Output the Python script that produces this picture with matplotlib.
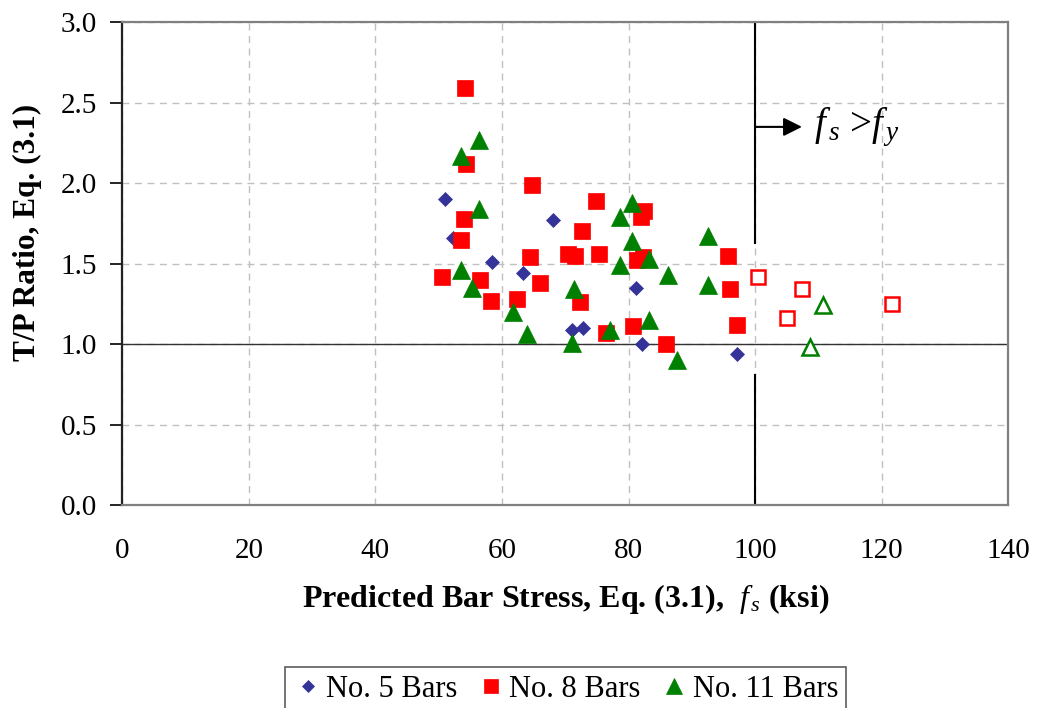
import matplotlib
matplotlib.use("Agg")
import matplotlib.pyplot as plt

plt.rcParams['font.family'] = ['Liberation Serif', 'DejaVu Serif']
plt.rcParams['mathtext.fontset'] = 'custom'
plt.rcParams['mathtext.rm'] = 'Liberation Serif'
plt.rcParams['mathtext.it'] = 'Liberation Serif:italic'
plt.rcParams['mathtext.bf'] = 'Liberation Serif:bold'

# No. 5 bars
no5_fs = [51.0, 52.3, 58.4, 68.0, 63.4, 81.2, 71.0, 72.8, 82.1, 97.1]
no5_tp = [1.90, 1.66, 1.51, 1.77, 1.44, 1.35, 1.09, 1.10, 1.00, 0.94]

# No. 8 bars (fs below yield)
no8_fs = [54.2, 54.3, 64.8, 54.0, 53.6, 74.8, 82.5, 82.0, 72.6, 64.4,
          70.4, 71.5, 75.3, 81.3, 82.3, 50.6, 56.5, 58.3, 62.3, 66.0,
          72.4, 76.4, 80.7, 85.9, 95.7, 96.0, 97.2]
no8_tp = [2.59, 2.12, 1.99, 1.78, 1.65, 1.89, 1.83, 1.79, 1.70, 1.54,
          1.56, 1.55, 1.56, 1.52, 1.54, 1.42, 1.40, 1.27, 1.28, 1.38,
          1.26, 1.07, 1.11, 1.00, 1.55, 1.34, 1.12]
# No. 8 bars, fs > fy
no8y_fs = [100.4, 107.4, 105.0, 121.6]
no8y_tp = [1.42, 1.34, 1.16, 1.25]

# No. 11 bars (fs below yield)
no11_fs = [56.4, 53.5, 56.4, 53.5, 55.3, 61.8, 64.0, 71.4, 71.0, 77.0,
           80.5, 78.6, 80.5, 78.6, 83.3, 86.3, 83.3, 87.7, 92.6, 92.6]
no11_tp = [2.27, 2.17, 1.84, 1.46, 1.35, 1.20, 1.06, 1.34, 1.01, 1.09,
           1.88, 1.79, 1.64, 1.49, 1.53, 1.43, 1.15, 0.90, 1.67, 1.37]
# No. 11 bars, fs > fy
no11y_fs = [110.8, 108.6]
no11y_tp = [1.24, 0.98]

fig = plt.figure(figsize=(10.37, 7.08), dpi=100)
ax = fig.add_axes([0.1179, 0.2867, 0.8544, 0.6818])

ax.grid(True, color='#c0c0c0', linestyle=(0, (5, 4)), linewidth=1.0)
ax.set_axisbelow(True)

# reference lines: T/P = 1 and yield stress
ax.axhline(1.0, color='#333333', lw=1.0, zorder=2)
ax.plot([100, 100], [1.63, 3.0], color='black', lw=1.5, zorder=2)
ax.plot([100, 100], [0.0, 0.81], color='black', lw=1.5, zorder=2)

ax.plot(no5_fs, no5_tp, 'D', color='#333399', ms=7, mew=0.5, ls='none',
        label='No. 5 Bars', zorder=3)
ax.plot(no8_fs, no8_tp, 's', color='#ff0000', ms=11, mew=0.5, ls='none',
        label='No. 8 Bars', zorder=3)
ax.plot(no11_fs, no11_tp, '^', color='#008000', ms=13, mew=0.5, ls='none',
        label='No. 11 Bars', zorder=4)
ax.plot(no8y_fs, no8y_tp, 's', mfc='white', mec='#ff0000', ms=9.5, mew=1.8,
        ls='none', zorder=3)
ax.plot(no11y_fs, no11y_tp, '^', mfc='white', mec='#008000', ms=11.5, mew=1.8,
        ls='none', zorder=3)

ax.annotate('', xy=(107.4, 2.35), xytext=(100, 2.35),
            arrowprops=dict(arrowstyle='-|>', color='black', lw=1.5,
                            mutation_scale=28, shrinkA=0, shrinkB=0))
ax.text(109.3, 2.35, r'$f_{\,s}$ >$f_{\,y}$', fontsize=28, va='center',
        ha='left')

ax.set_xlim(0, 140)
ax.set_ylim(0, 3.0)
ax.set_xticks(range(0, 141, 20))
ax.set_yticks([0, 0.5, 1.0, 1.5, 2.0, 2.5, 3.0])
ax.set_yticklabels(['0.0', '0.5', '1.0', '1.5', '2.0', '2.5', '3.0'])
ax.tick_params(axis='x', length=0, pad=24, labelsize=21)
ax.tick_params(axis='y', length=9, width=1.2, pad=9, labelsize=21, direction='out')

for side in ['top', 'right', 'bottom']:
    ax.spines[side].set_color('#808080')
    ax.spines[side].set_linewidth(1.6)
ax.spines['left'].set_color('#222222')
ax.spines['left'].set_linewidth(1.6)

ax.set_ylabel('T/P Ratio, Eq. (3.1)', fontsize=22.5, fontweight='bold')
ax.yaxis.set_label_coords(-0.0906, 0.565)
ax.set_xlabel(r'Predicted Bar Stress, Eq. (3.1),  $f_{\,s}$ (ksi)', fontsize=23,
              fontweight='bold')
ax.xaxis.set_label_coords(0.5, -0.16)

leg = fig.legend(loc='upper center', bbox_to_anchor=(0.545, 0.058), ncol=3,
                 fontsize=22, frameon=True, fancybox=False, edgecolor='#333333',
                 handletextpad=0.1, columnspacing=0.6, borderpad=0.25,
                 handlelength=1.0, borderaxespad=0, markerscale=0.9)
leg.get_frame().set_linewidth(1.2)

plt.savefig('out.png', dpi=100)
